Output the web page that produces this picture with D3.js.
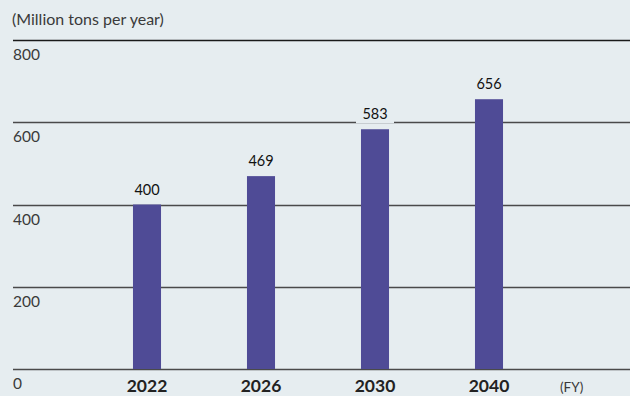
<!DOCTYPE html>
<html><head><meta charset="utf-8">
<script src="https://cdn.jsdelivr.net/npm/d3@7/dist/d3.min.js"></script>
<style>
html,body{margin:0;padding:0;background:#e6edf0;}
svg{display:block;}
</style></head>
<body>
<script>
const categories = ["2022","2026","2030","2040"];
const values = [400,469,583,656];
const yTicks = [0,200,400,600,800];
const unitLabel = "(Million tons per year)";
const xUnitLabel = "(FY)";

const W = 630, H = 396;
const svg = d3.select("body").append("svg").attr("width",W).attr("height",H);
svg.append("rect").attr("width",W).attr("height",H).attr("fill","#e6edf0");

const y = d3.scaleLinear().domain([0,800]).range([369,40]);
const x = d3.scaleBand().domain(categories).range([90,546]).paddingInner(0.754).paddingOuter(0.377);
const font = "Lato, 'Noto Sans', sans-serif";

// gridlines
svg.append("g").selectAll("line").data(yTicks).join("line")
  .attr("x1",13).attr("x2",W)
  .attr("y1",d=>Math.round(y(d))+0.5).attr("y2",d=>Math.round(y(d))+0.5)
  .attr("stroke",d=>d===800?"#1a1a1a":"#4a4a4a").attr("stroke-width",1.3);

// y labels
svg.append("g").selectAll("text").data(yTicks).join("text")
  .attr("x",13).attr("y",d=>y(d)+20)
  .attr("font-family",font).attr("font-size",15.5).attr("fill","#3a3a3a")
  .text(d=>d);

svg.append("text").attr("x",12).attr("y",25)
  .attr("font-family",font).attr("font-size",16).attr("fill","#3a3a3a").text(unitLabel);

// bars
svg.append("g").selectAll("rect").data(values).join("rect")
  .attr("x",(d,i)=>x(categories[i])).attr("width",x.bandwidth())
  .attr("y",d=>y(d)).attr("height",d=>y(0)-y(d))
  .attr("fill","#4f4b96");

// value labels with background
const vl = svg.append("g").selectAll("g").data(values).join("g");
vl.append("rect")
  .attr("x",(d,i)=>x(categories[i])+x.bandwidth()/2-19).attr("width",38)
  .attr("y",d=>y(d)-26).attr("height",20).attr("fill","#e6edf0");
vl.append("text")
  .attr("x",(d,i)=>x(categories[i])+x.bandwidth()/2).attr("y",d=>y(d)-10)
  .attr("text-anchor","middle").attr("font-family",font).attr("font-size",14.5)
  .attr("fill","#111").text(d=>d);

// category labels
svg.append("g").selectAll("text").data(categories).join("text")
  .attr("x",d=>x(d)+x.bandwidth()/2).attr("y",392)
  .attr("text-anchor","middle").attr("font-family",font).attr("font-size",17.5).attr("font-weight",700)
  .attr("fill","#222").text(d=>d);

svg.append("text").attr("x",560).attr("y",392)
  .attr("font-family",font).attr("font-size",13.5).attr("fill","#3a3a3a").text(xUnitLabel);
</script>
</body></html>
